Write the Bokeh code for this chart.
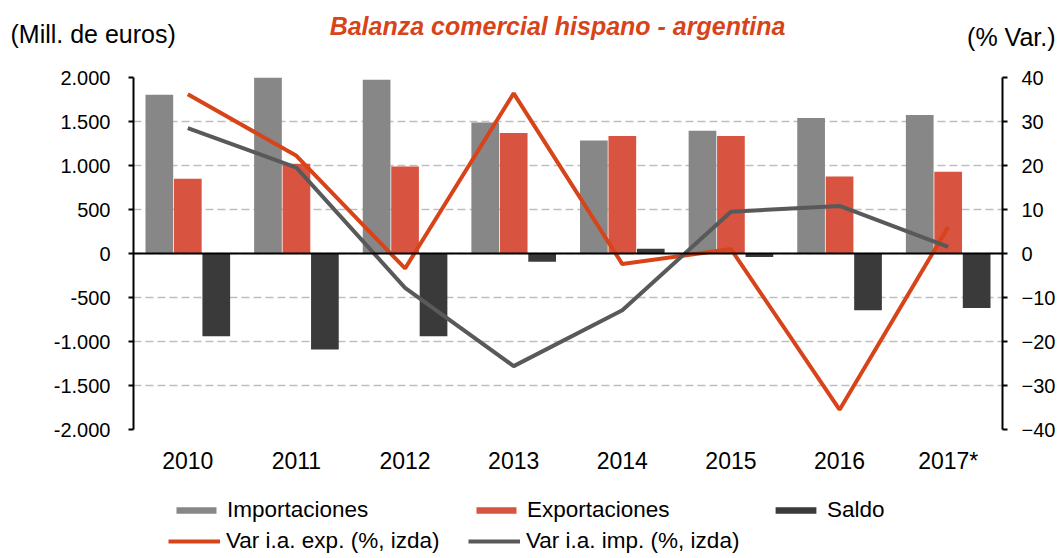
from bokeh.plotting import figure
from bokeh.layouts import column, row
from bokeh.models import (ColumnDataSource, FactorRange, Range1d, LinearAxis, FixedTicker,
                          Span, Label, Legend, LegendItem)
from bokeh.transform import dodge
from bokeh.embed import file_html
from bokeh.resources import INLINE

years = ["2010", "2011", "2012", "2013", "2014", "2015", "2016", "2017*"]
importaciones = [1805, 2005, 1975, 1490, 1285, 1395, 1540, 1575]
exportaciones = [850, 1020, 990, 1370, 1335, 1335, 875, 930]
saldo = [-940, -1090, -940, -95, 55, -40, -645, -620]
var_exp = [36.2, 22.2, -3.4, 36.4, -2.4, 1.0, -35.5, 6.0]
var_imp = [28.5, 19.5, -7.8, -25.6, -12.9, 9.5, 10.8, 1.5]

left_ticks = [-2000, -1500, -1000, -500, 0, 500, 1000, 1500, 2000]
left_labels = ["-2.000", "-1.500", "-1.000", "-500", "0", "500", "1.000", "1.500", "2.000"]
right_ticks = [-40, -30, -20, -10, 0, 10, 20, 30, 40]

FONT = "Liberation Sans"
C_IMP = "#878787"
C_EXP = "#D95341"
C_SAL = "#3A3A3A"
C_LEXP = "#D8441A"
C_LIMP = "#595959"
W_TOTAL = 1058
LW = 4

src = ColumnDataSource(dict(year=years, imp=importaciones, exp=exportaciones, sal=saldo,
                            vexp=var_exp, vimp=var_imp))

# ---------------- top strip with texts ----------------
top = figure(width=W_TOTAL, height=60, x_range=Range1d(0, 1), y_range=Range1d(0, 1),
             output_backend="svg", toolbar_location=None, tools="",
             x_axis_location=None, y_axis_location=None,
             min_border_left=0, min_border_right=0, min_border_top=0, min_border_bottom=0)
top.outline_line_color = None
top.xgrid.visible = False
top.ygrid.visible = False
top.title.visible = False
top.add_layout(Label(x=10, y=27, x_units="screen", y_units="screen", text="(Mill. de euros)",
                     text_font=FONT, text_font_size="25px", text_baseline="middle",
                     text_color="black"))
top.add_layout(Label(x=557, y=35, x_units="screen", y_units="screen",
                     text="Balanza comercial hispano - argentina", text_font=FONT,
                     text_font_size="25px", text_font_style="bold italic", text_align="center",
                     text_baseline="middle", text_color=C_LEXP))
top.add_layout(Label(x=1055, y=24, x_units="screen", y_units="screen", text="(% Var.)",
                     text_font=FONT, text_font_size="25px", text_align="right",
                     text_baseline="middle", text_color="black"))

# ---------------- main chart ----------------
p = figure(width=W_TOTAL, height=420, x_range=FactorRange(factors=years, range_padding=0),
           y_range=Range1d(-2000, 2000), output_backend="svg", toolbar_location=None, tools="",
           min_border_left=133, min_border_right=56, min_border_top=17, min_border_bottom=51)
p.extra_y_ranges = {"pct": Range1d(-40, 40)}
p.outline_line_color = None
p.title.visible = False

p.xgrid.grid_line_color = None
p.ygrid.ticker = FixedTicker(ticks=left_ticks)
p.ygrid.grid_line_color = "#BFBFBF"
p.ygrid.grid_line_dash = "8 4"
p.ygrid.grid_line_width = 1.5

W = 0.255
p.vbar(x=dodge("year", -0.262, range=p.x_range), top="imp", bottom=0, width=W,
       source=src, fill_color=C_IMP, line_color=None)
p.vbar(x=dodge("year", 0.0, range=p.x_range), top="exp", bottom=0, width=W,
       source=src, fill_color=C_EXP, line_color=None)
p.vbar(x=dodge("year", 0.262, range=p.x_range), top="sal", bottom=0, width=W,
       source=src, fill_color=C_SAL, line_color=None)

p.add_layout(Span(location=0, dimension="width", line_color="black", line_width=2))

p.line(x="year", y="vexp", source=src, y_range_name="pct", line_color=C_LEXP, line_width=LW)
p.line(x="year", y="vimp", source=src, y_range_name="pct", line_color=C_LIMP, line_width=LW)

xa = p.xaxis[0]
xa.axis_line_color = None
xa.major_tick_line_color = None
xa.minor_tick_line_color = None
xa.major_label_text_font = FONT
xa.major_label_text_font_size = "23px"
xa.major_label_text_color = "black"
xa.major_label_standoff = 12

ya = p.yaxis[0]
ya.ticker = FixedTicker(ticks=left_ticks)
ya.major_label_overrides = {t: l for t, l in zip(left_ticks, left_labels)}
ya.axis_line_width = 2
ya.axis_line_color = "black"
ya.major_tick_line_width = 2
ya.major_tick_in = 0
ya.major_tick_out = 5
ya.minor_tick_line_color = None
ya.major_label_text_font = FONT
ya.major_label_text_font_size = "20px"
ya.major_label_text_color = "black"
ya.major_label_standoff = 18

ra = LinearAxis(y_range_name="pct", ticker=FixedTicker(ticks=right_ticks))
ra.axis_line_width = 2
ra.axis_line_color = "black"
ra.major_tick_line_width = 2
ra.major_tick_in = 0
ra.major_tick_out = 5
ra.minor_tick_line_color = None
ra.major_label_text_font = FONT
ra.major_label_text_font_size = "20px"
ra.major_label_text_color = "black"
ra.major_label_standoff = 14
p.add_layout(ra, "right")

# ---------------- legend strip ----------------
bot = figure(width=W_TOTAL, height=78, x_range=FactorRange(factors=years), y_range=Range1d(0, 1),
             output_backend="svg", toolbar_location=None, tools="",
             x_axis_location=None, y_axis_location=None,
             min_border_left=0, min_border_right=0, min_border_top=0, min_border_bottom=0)
bot.outline_line_color = None
bot.xgrid.visible = False
bot.ygrid.visible = False
bot.title.visible = False
d_imp = bot.vbar(x="year", top="imp", width=0.2, source=src, fill_color=C_IMP, line_color=None,
                 visible=False)
d_exp = bot.vbar(x="year", top="exp", width=0.2, source=src, fill_color=C_EXP, line_color=None,
                 visible=False)
d_sal = bot.vbar(x="year", top="sal", width=0.2, source=src, fill_color=C_SAL, line_color=None,
                 visible=False)
d_lexp = bot.line(x="year", y="vexp", source=src, line_color=C_LEXP, line_width=LW,
                  visible=False)
d_limp = bot.line(x="year", y="vimp", source=src, line_color=C_LIMP, line_width=LW,
                  visible=False)

FRAME_LEFT = 133


def add_legend(label, rend, page_x, vy, gw, gh):
    lg = Legend(items=[LegendItem(label=label, renderers=[rend])],
                location=(page_x - FRAME_LEFT, vy),
                glyph_width=gw, glyph_height=gh, label_standoff=6, padding=0, margin=0,
                border_line_color=None, background_fill_alpha=0, label_height=24,
                inactive_fill_alpha=0,
                label_text_font=FONT, label_text_font_size="22.5px", label_text_color="black",
                spacing=0)
    bot.add_layout(lg, "center")


add_legend("Importaciones", d_imp, 171, 35, 50, 8)
add_legend("Exportaciones", d_exp, 471, 35, 50, 8)
add_legend("Saldo", d_sal, 770, 35, 51, 8)
add_legend("Var i.a. exp. (%, izda)", d_lexp, 168, 4, 52, 20)
add_legend("Var i.a. imp. (%, izda)", d_limp, 468, 4, 52, 20)

layout = column(row(top), p, bot, spacing=0)
open("out.html", "w").write(file_html(layout, INLINE))
